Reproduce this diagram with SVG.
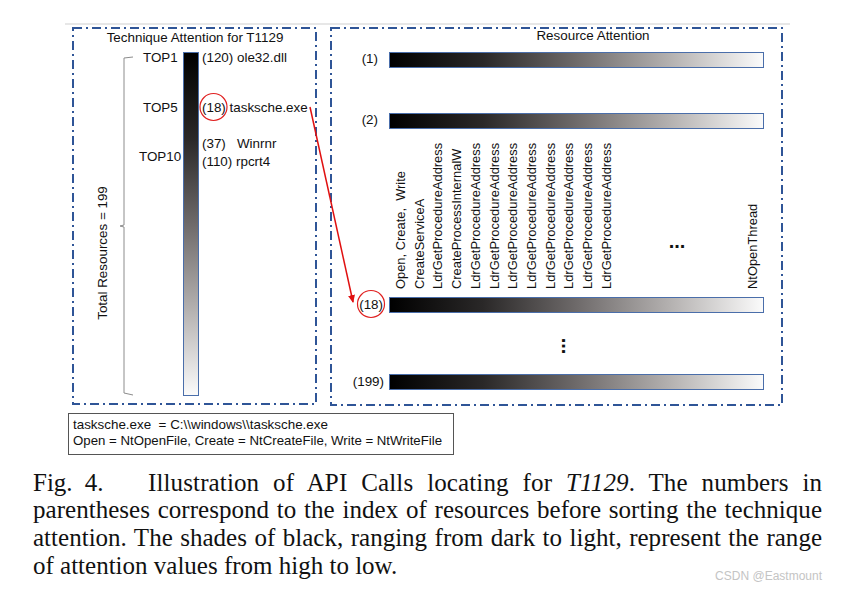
<svg xmlns="http://www.w3.org/2000/svg" width="842" height="591" viewBox="0 0 842 591">
<defs>
<linearGradient id="gh" x1="0" y1="0" x2="1" y2="0">
<stop offset="0" stop-color="#000"/><stop offset="0.25" stop-color="#2a2828"/><stop offset="0.5" stop-color="#6e6a6a"/><stop offset="0.75" stop-color="#b4b1b0"/><stop offset="1" stop-color="#fbfbfb"/>
</linearGradient>
<linearGradient id="gv" x1="0" y1="0" x2="0" y2="1">
<stop offset="0" stop-color="#000"/><stop offset="0.25" stop-color="#2a2828"/><stop offset="0.5" stop-color="#6e6a6a"/><stop offset="0.75" stop-color="#b4b1b0"/><stop offset="1" stop-color="#fbfbfb"/>
</linearGradient>
<marker id="ah" markerWidth="8" markerHeight="8" refX="7" refY="4" orient="auto" markerUnits="userSpaceOnUse">
<path d="M0,0.5 L8,4 L0,7.5 Z" fill="#e01010"/>
</marker>
<style>
.t{font-family:"Liberation Sans",Arial,sans-serif;font-size:13.4px;fill:#111}
.rv{font-family:"Liberation Sans",Arial,sans-serif;font-size:12.9px;fill:#111}
.box{fill:none;stroke:#2f5597;stroke-width:2;stroke-dasharray:9 4 2 4}
.bar{stroke:#4a6eaa;stroke-width:1}
.cap{font-family:"Liberation Serif","Times New Roman",serif;font-size:25px;fill:#111}
.red{fill:none;stroke:#e02020;stroke-width:1.2}
.dots{font-family:"Liberation Sans",Arial,sans-serif;font-size:20px;font-weight:bold;fill:#111}
</style>
</defs>
<rect width="842" height="591" fill="#fff"/>
<line x1="65" y1="24" x2="790" y2="24" stroke="#cfcfcf" stroke-width="1"/>

<g id="technique-panel">
<rect class="box" x="73" y="28" width="243" height="376"/>
<text class="t" x="195" y="42" text-anchor="middle">Technique Attention for T1129</text>
<rect class="bar" x="183.5" y="52.5" width="15" height="343" fill="url(#gv)"/>
<path d="M133,57 L124,58 L124,225 L120,226 L124,227 L124,393 L133,395" fill="none" stroke="#8c8c8c" stroke-width="1"/>
<text class="t" transform="translate(107,253) rotate(-90)" text-anchor="middle">Total Resources = 199</text>
<text class="t" x="143" y="62">TOP1</text>
<text class="t" x="143" y="112">TOP5</text>
<text class="t" x="139" y="161">TOP10</text>
<text class="t" x="202" y="62">(120) ole32.dll</text>
<text class="t" x="202" y="112">(18) tasksche.exe</text>
<circle class="red" cx="213.5" cy="107" r="13.5"/>
<text class="t" x="202" y="148" xml:space="preserve">(37)   Winrnr</text>
<text class="t" x="202" y="166">(110) rpcrt4</text>
</g>

<g id="resource-panel">
<rect class="box" x="331" y="28" width="451" height="377"/>
<text class="t" x="593" y="40" text-anchor="middle">Resource Attention</text>
<g id="row-1">
<text class="t" x="378" y="63" text-anchor="end">(1)</text>
<rect class="bar" x="389.5" y="52.5" width="374" height="15" fill="url(#gh)"/>
</g>
<g id="row-2">
<text class="t" x="378" y="124" text-anchor="end">(2)</text>
<rect class="bar" x="389.5" y="113.5" width="374" height="15" fill="url(#gh)"/>
</g>
<g id="row-18">
<text class="t" x="383" y="309" text-anchor="end">(18)</text>
<circle class="red" cx="371" cy="304" r="13.5"/>
<rect class="bar" x="389.5" y="297.5" width="374" height="15" fill="url(#gh)"/>
<g id="api-labels">
<text class="rv" transform="translate(405,289) rotate(-90)" xml:space="preserve">Open, Create,  Write</text>
<text class="rv" transform="translate(423.7,289) rotate(-90)">CreateServiceA</text>
<text class="rv" transform="translate(442.4,289) rotate(-90)">LdrGetProcedureAddress</text>
<text class="rv" transform="translate(461.1,289) rotate(-90)">CreateProcessInternalW</text>
<text class="rv" transform="translate(479.8,289) rotate(-90)">LdrGetProcedureAddress</text>
<text class="rv" transform="translate(498.5,289) rotate(-90)">LdrGetProcedureAddress</text>
<text class="rv" transform="translate(517.2,289) rotate(-90)">LdrGetProcedureAddress</text>
<text class="rv" transform="translate(535.9,289) rotate(-90)">LdrGetProcedureAddress</text>
<text class="rv" transform="translate(554.6,289) rotate(-90)">LdrGetProcedureAddress</text>
<text class="rv" transform="translate(573.3,289) rotate(-90)">LdrGetProcedureAddress</text>
<text class="rv" transform="translate(592,289) rotate(-90)">LdrGetProcedureAddress</text>
<text class="rv" transform="translate(610.7,289) rotate(-90)">LdrGetProcedureAddress</text>
<text class="dots" x="677" y="248" text-anchor="middle">...</text>
<text class="rv" transform="translate(757,289) rotate(-90)">NtOpenThread</text>
</g>
</g>
<text class="dots" transform="translate(562,346) rotate(90)" text-anchor="middle">...</text>
<g id="row-199">
<text class="t" x="384" y="386" text-anchor="end">(199)</text>
<rect class="bar" x="389.5" y="374.5" width="374" height="15" fill="url(#gh)"/>
</g>
</g>

<g id="connectors">
<line x1="310" y1="107" x2="353" y2="302" stroke="#e01010" stroke-width="1.5" marker-end="url(#ah)"/>
</g>

<g id="legend">
<rect x="68.5" y="413.5" width="385" height="41" fill="#fff" stroke="#555" stroke-width="1"/>
<text class="t" x="73" y="429" font-size="12.5" xml:space="preserve">tasksche.exe  = C:\\windows\\tasksche.exe</text>
<text class="t" x="73" y="445" font-size="12.5" textLength="369" lengthAdjust="spacingAndGlyphs">Open = NtOpenFile, Create = NtCreateFile, Write = NtWriteFile</text>
</g>

<g id="caption">
<text class="cap" x="33" y="491" word-spacing="6">Fig. 4.</text>
<text class="cap" x="148" y="491" word-spacing="7.5" textLength="674" lengthAdjust="spacing">Illustration of API Calls locating for <tspan font-style="italic">T1129</tspan>. The numbers in</text>
<text class="cap" x="33" y="518" word-spacing="1.5" textLength="789" lengthAdjust="spacing">parentheses correspond to the index of resources before sorting the technique</text>
<text class="cap" x="33" y="546" word-spacing="1.2" textLength="789" lengthAdjust="spacing">attention. The shades of black, ranging from dark to light, represent the range</text>
<text class="cap" x="33" y="574">of attention values from high to low.</text>
<text x="822" y="580" text-anchor="end" font-family="Liberation Sans,Arial,sans-serif" font-size="12" fill="#c4c4c4">CSDN @Eastmount</text>
</g>
</svg>
